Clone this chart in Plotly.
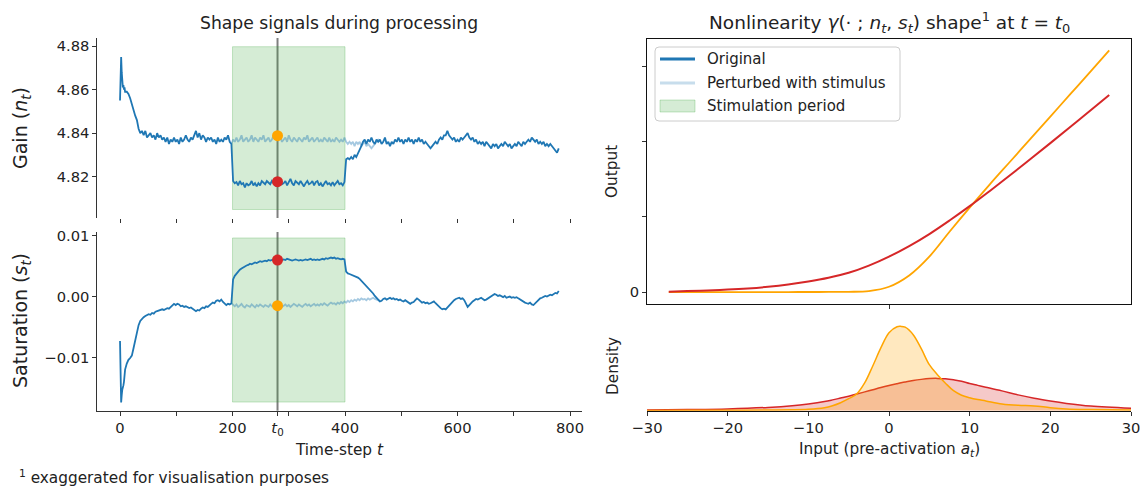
import plotly.graph_objects as go

W, H = 1141, 488
FONT = "DejaVu Sans"

# ---------------- time series (left panels) ----------------
t_steps = list(range(0, 10)) + list(range(12, 781, 3))
t_stim = list(range(198, 463, 3))

gain_original = [
    4.855, 4.869, 4.875, 4.868, 4.863, 4.861, 4.862, 4.860, 4.861, 4.859,
    4.859, 4.858, 4.856, 4.853, 4.850, 4.848, 4.846, 4.842, 4.840, 4.841,
    4.839, 4.841, 4.838, 4.839, 4.840, 4.838, 4.839, 4.837, 4.840, 4.838,
    4.839, 4.837, 4.838, 4.836, 4.838, 4.835, 4.837, 4.836, 4.838, 4.836,
    4.837, 4.835, 4.838, 4.836, 4.837, 4.839, 4.837, 4.836, 4.838, 4.837,
    4.839, 4.841, 4.838, 4.840, 4.837, 4.839, 4.838, 4.836, 4.838, 4.837,
    4.838, 4.836, 4.837, 4.835, 4.838, 4.836, 4.837, 4.836, 4.838, 4.837,
    4.839, 4.836, 4.835,
    4.818, 4.817, 4.8175, 4.816, 4.818, 4.8165, 4.817, 4.815, 4.817, 4.816,
    4.8165, 4.818, 4.816, 4.817, 4.8155, 4.817, 4.816, 4.818, 4.817, 4.8165,
    4.818, 4.817, 4.8165, 4.818, 4.817, 4.816, 4.8175, 4.817, 4.818, 4.8165,
    4.817, 4.818, 4.816, 4.8175, 4.819, 4.817, 4.816, 4.818, 4.817, 4.8165,
    4.818, 4.817, 4.8155, 4.817, 4.818, 4.8165, 4.817, 4.818, 4.816, 4.8175,
    4.818, 4.816, 4.817, 4.8155, 4.817, 4.818, 4.8165, 4.817, 4.816, 4.8175,
    4.816, 4.817, 4.818, 4.8165, 4.817, 4.816, 4.8175,
    4.828, 4.8285, 4.828, 4.829, 4.828, 4.830, 4.829, 4.8305, 4.832, 4.834,
    4.836, 4.837, 4.835, 4.837, 4.836, 4.838, 4.836, 4.835, 4.837, 4.836,
    4.837, 4.835, 4.836, 4.838, 4.835, 4.836, 4.834, 4.836, 4.835, 4.837,
    4.836, 4.838, 4.836, 4.837, 4.835, 4.837, 4.836, 4.838, 4.836, 4.837,
    4.835, 4.837, 4.836, 4.838, 4.836, 4.837, 4.835, 4.836, 4.835, 4.834,
    4.833, 4.834, 4.835, 4.836, 4.835, 4.837, 4.838, 4.837, 4.839, 4.839,
    4.841, 4.839, 4.838, 4.837, 4.838, 4.836, 4.837, 4.836, 4.838, 4.837,
    4.838, 4.839, 4.840, 4.838, 4.837, 4.838, 4.836, 4.837, 4.835, 4.836,
    4.835, 4.836, 4.834, 4.836, 4.835, 4.834, 4.833, 4.835, 4.834, 4.835,
    4.833, 4.834, 4.835, 4.834, 4.836, 4.835, 4.834, 4.835, 4.833, 4.834,
    4.835, 4.834, 4.836, 4.835, 4.834, 4.836, 4.835, 4.836, 4.837, 4.836,
    4.838, 4.837, 4.836, 4.837, 4.835, 4.836, 4.835, 4.836, 4.834, 4.835,
    4.834, 4.835, 4.834, 4.833, 4.832, 4.831, 4.833,
]

gain_perturbed = [
    4.835,
    4.837, 4.836, 4.838, 4.836, 4.837, 4.839, 4.836, 4.837, 4.838, 4.836,
    4.837, 4.839, 4.836, 4.838, 4.837, 4.836, 4.838, 4.837, 4.839, 4.836,
    4.837, 4.838, 4.836, 4.837, 4.839, 4.838, 4.837, 4.839, 4.838, 4.836,
    4.837, 4.838, 4.836, 4.839, 4.837, 4.836, 4.838, 4.837, 4.836, 4.838,
    4.837, 4.836, 4.838, 4.837, 4.839, 4.836, 4.837, 4.838, 4.836, 4.837,
    4.838, 4.836, 4.837, 4.836, 4.838, 4.837, 4.836, 4.838, 4.836, 4.837,
    4.836, 4.838, 4.837, 4.836, 4.837, 4.836, 4.838, 4.836, 4.835, 4.836,
    4.835, 4.836, 4.834, 4.836, 4.835, 4.836, 4.834, 4.835, 4.836, 4.834,
    4.835, 4.834, 4.833, 4.834, 4.835, 4.836, 4.837, 4.836,
]

sat_original = [
    -0.0073, -0.0125, -0.0174, -0.0162, -0.0153, -0.0150, -0.0146, -0.0140, -0.0128, -0.0120,
    -0.0110, -0.0104, -0.0101, -0.0097, -0.0085, -0.0072, -0.0058, -0.0047, -0.0040, -0.0036,
    -0.0034, -0.0032, -0.0031, -0.0029, -0.0030, -0.0027, -0.0028, -0.0025, -0.0024, -0.0023,
    -0.0022, -0.0021, -0.0022, -0.0020, -0.0019, -0.0020, -0.0017, -0.0014, -0.0012, -0.0014,
    -0.0012, -0.0013, -0.0016, -0.0015, -0.0017, -0.0016, -0.0018, -0.0019, -0.0018, -0.0020,
    -0.0022, -0.0024, -0.0022, -0.0023, -0.0020, -0.0018, -0.0019, -0.0016, -0.0017, -0.0014,
    -0.0012, -0.0010, -0.0011, -0.0007, -0.0006, -0.0008, -0.0005, -0.0009, -0.0012, -0.0014,
    -0.0012, -0.0013, -0.0011,
    0.0028, 0.0034, 0.0038, 0.0042, 0.0044, 0.0046, 0.0048, 0.0049, 0.0051, 0.0052,
    0.0054, 0.0053, 0.0055, 0.0056, 0.0055, 0.0057, 0.0058, 0.0057, 0.0058, 0.0059,
    0.0058, 0.0060, 0.0059, 0.0060, 0.0061, 0.0060, 0.0060, 0.0061, 0.0059, 0.0060,
    0.0061, 0.0060, 0.0062, 0.0061, 0.0060, 0.0059, 0.0060, 0.0061, 0.0060, 0.0059,
    0.0060, 0.0059, 0.0060, 0.0061, 0.0060, 0.0061, 0.0062, 0.0060, 0.0061, 0.0060,
    0.0061, 0.0060, 0.0061, 0.0062, 0.0061, 0.0063, 0.0062, 0.0063, 0.0064, 0.0063,
    0.0064, 0.0062, 0.0063, 0.0062, 0.0061, 0.0062, 0.0061,
    0.0041, 0.0038, 0.0037, 0.0036, 0.0035, 0.0034, 0.0033, 0.0031, 0.0029, 0.0026,
    0.0024, 0.0021, 0.0018, 0.0015, 0.0011, 0.0008, 0.0005, 0.0001, -0.0003, -0.0005,
    -0.0008, -0.0007, -0.0004, -0.0003, -0.0005, -0.0003, -0.0002, -0.0004, -0.0003, -0.0005,
    -0.0004, -0.0006, -0.0005, -0.0007, -0.0008, -0.0006, -0.0008, -0.0010, -0.0012, -0.0010,
    -0.0009, -0.0006, -0.0003, -0.0005, -0.0008, -0.0010, -0.0009, -0.0011, -0.0010, -0.0012,
    -0.0011, -0.0009, -0.0008, -0.0011, -0.0014, -0.0017, -0.0019, -0.0021, -0.0020, -0.0021,
    -0.0018, -0.0014, -0.0011, -0.0008, -0.0006, -0.0004, -0.0003, -0.0002, -0.0004, -0.0003,
    -0.0006, -0.0011, -0.0017, -0.0014, -0.0010, -0.0008, -0.0006, -0.0004, -0.0005, -0.0003,
    -0.0002, -0.0004, -0.0006, -0.0005, -0.0003, -0.0001, 0.0000, 0.0002, 0.0004, 0.0003,
    0.0001, 0.0002, 0.0000, -0.0001, 0.0001, -0.0002, -0.0001, 0.0000, -0.0002, -0.0001,
    -0.0002, -0.0001, -0.0003, -0.0005, -0.0006, -0.0008, -0.0010, -0.0011, -0.0012, -0.0010,
    -0.0013, -0.0014, -0.0011, -0.0008, -0.0005, -0.0003, -0.0002, 0.0000, 0.0001, 0.0000,
    0.0002, 0.0003, 0.0002, 0.0004, 0.0006, 0.0005, 0.0009,
]

sat_perturbed = [
    -0.0011,
    -0.0014, -0.0016, -0.0013, -0.0017, -0.0015, -0.0012, -0.0016, -0.0018, -0.0014, -0.0015,
    -0.0017, -0.0013, -0.0015, -0.0018, -0.0014, -0.0016, -0.0013, -0.0015, -0.0017, -0.0014,
    -0.0015, -0.0017, -0.0013, -0.0016, -0.0014, -0.0012, -0.0015, -0.0016, -0.0014, -0.0017,
    -0.0015, -0.0013, -0.0016, -0.0014, -0.0017, -0.0015, -0.0012, -0.0014, -0.0016, -0.0013,
    -0.0015, -0.0017, -0.0014, -0.0012, -0.0015, -0.0013, -0.0016, -0.0014, -0.0012, -0.0015,
    -0.0013, -0.0015, -0.0012, -0.0014, -0.0011, -0.0013, -0.0015, -0.0012, -0.0010, -0.0012,
    -0.0011, -0.0013, -0.0010, -0.0012, -0.0009, -0.0011, -0.0008, -0.0010, -0.0007, -0.0009,
    -0.0006, -0.0008, -0.0005, -0.0007, -0.0004, -0.0006, -0.0003, -0.0005, -0.0004, -0.0006,
    -0.0003, -0.0005, -0.0004, -0.0002, -0.0004, -0.0005, -0.0006, -0.0007,
]

t0 = 280
stim_start, stim_end = 200, 400
t0_gain = [4.8177, 4.8388]        # original, perturbed
t0_sat = [0.0060, -0.0015]        # original, perturbed
t0_colors = ["#d62728", "#FFA500"]

time_tickvals = [0, 100, 200, 280, 300, 400, 500, 600, 700, 800]
time_ticktext = ["0", "", "200", "<i>t</i><sub>0</sub>", "", "400", "", "600", "", "800"]

# ---------------- nonlinearity and input density (right panels) ----------------
act_input = [-27.3, -25, -22.5, -20, -17.5, -15, -12.5, -10, -7.5, -5, -2.5, 0,
             2.5, 5, 7.5, 10, 12.5, 15, 17.5, 20, 22.5, 25, 27.3]
gamma_original = [0.005, 0.012, 0.020, 0.032, 0.048, 0.070, 0.100, 0.140, 0.190, 0.255,
                  0.350, 0.470, 0.610, 0.770, 0.950, 1.140, 1.3425, 1.550, 1.7625, 1.9775,
                  2.195, 2.415, 2.617]
gamma_perturbed = [0.0, 0.0, 0.0, 0.0, 0.0, 0.0, 0.0, 0.0005, 0.001, 0.003,
                   0.013, 0.070, 0.220, 0.470, 0.800, 1.120, 1.430, 1.730, 2.030, 2.330,
                   2.630, 2.930, 3.210]

density_x = [-30, -25, -20, -15, -12, -10, -8, -7, -6, -5, -4, -3, -2, -1, 0, 1, 1.5, 2,
             3, 4, 5, 6, 7, 8, 9, 10, 11, 12, 14, 16, 18, 20, 22, 25, 30]
density_perturbed = [0.0005, 0.0006, 0.0008, 0.0011, 0.0014, 0.0022, 0.0048, 0.0080, 0.0128,
                     0.0192, 0.0269, 0.0448, 0.0720, 0.1008, 0.1248, 0.1344, 0.1349, 0.1336,
                     0.1216, 0.0992, 0.0736, 0.0576, 0.0440, 0.0320, 0.0248, 0.0208, 0.0179,
                     0.0157, 0.0109, 0.0086, 0.0077, 0.0048, 0.0029, 0.0019, 0.0010]
density_original = [0.0011, 0.0018, 0.0029, 0.0053, 0.0080, 0.0109, 0.0147, 0.0173, 0.0202,
                    0.0232, 0.0266, 0.0301, 0.0336, 0.0371, 0.0403, 0.0432, 0.0446, 0.0459,
                    0.0483, 0.0501, 0.0514, 0.0517, 0.0510, 0.0494, 0.0472, 0.0435, 0.0405,
                    0.0376, 0.0317, 0.0253, 0.0198, 0.0154, 0.0117, 0.0075, 0.0040]

legend_labels = ["Original", "Perturbed with stimulus", "Stimulation period"]

BLUE = "#1f77b4"
BLUE_LIGHT = "rgba(31,119,180,0.4)"
BLUE_LEGEND = "rgba(31,119,180,0.25)"
RED = "#d62728"
ORANGE = "#FFA500"
GREEN_FILL = "rgba(44,160,44,0.2)"
GREEN_EDGE = "rgba(44,160,44,0.25)"
AXIS_COL = "#333333"
TEXT_COL = "#222222"


def px_x(p):
    return p / W


def px_y(p):
    return 1 - p / H


fig = go.Figure()

# top-left: gain
fig.add_trace(go.Scatter(x=t_stim, y=gain_perturbed, mode="lines", line=dict(color=BLUE_LIGHT, width=1.8),
                         name=legend_labels[1], xaxis="x", yaxis="y"))
fig.add_trace(go.Scatter(x=t_steps, y=gain_original, mode="lines", line=dict(color=BLUE, width=1.8),
                         name=legend_labels[0], xaxis="x", yaxis="y"))
# bottom-left: saturation
fig.add_trace(go.Scatter(x=t_stim, y=sat_perturbed, mode="lines", line=dict(color=BLUE_LIGHT, width=1.8),
                         xaxis="x2", yaxis="y2"))
fig.add_trace(go.Scatter(x=t_steps, y=sat_original, mode="lines", line=dict(color=BLUE, width=1.8),
                         xaxis="x2", yaxis="y2"))
# markers at t0
fig.add_trace(go.Scatter(x=[t0, t0], y=t0_gain, mode="markers",
                         marker=dict(color=t0_colors, size=11, line=dict(width=0)),
                         xaxis="x", yaxis="y"))
fig.add_trace(go.Scatter(x=[t0, t0], y=t0_sat, mode="markers",
                         marker=dict(color=t0_colors, size=11, line=dict(width=0)),
                         xaxis="x2", yaxis="y2"))

# right-top: nonlinearity
fig.add_trace(go.Scatter(x=act_input, y=gamma_perturbed, mode="lines",
                         line=dict(color=ORANGE, width=1.8, shape="spline"), xaxis="x3", yaxis="y3"))
fig.add_trace(go.Scatter(x=act_input, y=gamma_original, mode="lines",
                         line=dict(color=RED, width=2, shape="spline"), xaxis="x3", yaxis="y3"))

# right-bottom: densities
fig.add_trace(go.Scatter(x=density_x, y=density_original, mode="lines", fill="tozeroy",
                         fillcolor="rgba(214,39,40,0.25)", line=dict(color=RED, width=1.5, shape="spline"),
                         xaxis="x4", yaxis="y4"))
fig.add_trace(go.Scatter(x=density_x, y=density_perturbed, mode="lines", fill="tozeroy",
                         fillcolor="rgba(255,165,0,0.25)", line=dict(color=ORANGE, width=1.5, shape="spline"),
                         xaxis="x4", yaxis="y4"))

shapes = [
    dict(type="rect", xref="x", yref="y", x0=stim_start, x1=stim_end, y0=4.8049, y1=4.8797,
         fillcolor=GREEN_FILL, line=dict(color=GREEN_EDGE, width=1), layer="below"),
    dict(type="rect", xref="x2", yref="y2", x0=stim_start, x1=stim_end, y0=-0.01733, y1=0.00962,
         fillcolor=GREEN_FILL, line=dict(color=GREEN_EDGE, width=1), layer="below"),
    dict(type="line", xref="x", yref="y domain", x0=t0, x1=t0, y0=0, y1=1,
         line=dict(color="rgba(0,0,0,0.5)", width=2), layer="below"),
    dict(type="line", xref="x2", yref="y2 domain", x0=t0, x1=t0, y0=0, y1=1,
         line=dict(color="rgba(0,0,0,0.5)", width=2), layer="below"),
]

# legend box (rounded frame) with its three handles
bx0, bx1, by0, by1, r = 655, 900, 47, 121, 4
frame = (f"M {px_x(bx0 + r)},{px_y(by0)} L {px_x(bx1 - r)},{px_y(by0)} "
         f"Q {px_x(bx1)},{px_y(by0)} {px_x(bx1)},{px_y(by0 + r)} "
         f"L {px_x(bx1)},{px_y(by1 - r)} Q {px_x(bx1)},{px_y(by1)} {px_x(bx1 - r)},{px_y(by1)} "
         f"L {px_x(bx0 + r)},{px_y(by1)} Q {px_x(bx0)},{px_y(by1)} {px_x(bx0)},{px_y(by1 - r)} "
         f"L {px_x(bx0)},{px_y(by0 + r)} Q {px_x(bx0)},{px_y(by0)} {px_x(bx0 + r)},{px_y(by0)} Z")
shapes.append(dict(type="path", xref="paper", yref="paper", path=frame,
                   fillcolor="rgba(255,255,255,0.8)", line=dict(color="#cccccc", width=1), layer="above"))
row_y = [59, 83, 106]
shapes.append(dict(type="line", xref="paper", yref="paper", x0=px_x(660), x1=px_x(695),
                   y0=px_y(row_y[0]), y1=px_y(row_y[0]), line=dict(color=BLUE, width=3), layer="above"))
shapes.append(dict(type="line", xref="paper", yref="paper", x0=px_x(660), x1=px_x(695),
                   y0=px_y(row_y[1]), y1=px_y(row_y[1]), line=dict(color=BLUE_LEGEND, width=3), layer="above"))
shapes.append(dict(type="rect", xref="paper", yref="paper", x0=px_x(660), x1=px_x(695),
                   y0=px_y(row_y[2] + 6), y1=px_y(row_y[2] - 6), fillcolor=GREEN_FILL,
                   line=dict(color=GREEN_EDGE, width=1), layer="above"))

tickfont = dict(family=FONT, size=14.7, color=TEXT_COL)
left_dom = [px_x(97.3), px_x(581.7)]
right_dom = [px_x(647), px_x(1131)]
time_range = [-40.4, 820.8]

common_tick = dict(ticks="outside", ticklen=4, tickwidth=1, tickcolor=AXIS_COL, tickfont=tickfont,
                   showgrid=False, zeroline=False, automargin=False)

fig.update_layout(
    template="none",
    width=W, height=H,
    margin=dict(l=0, r=0, t=0, b=0, pad=0, autoexpand=False),
    paper_bgcolor="white", plot_bgcolor="white",
    font=dict(family=FONT, size=14, color=TEXT_COL),
    shapes=shapes,
    showlegend=False,
    xaxis=dict(domain=left_dom, range=time_range, anchor="y", showline=False,
               tickvals=[0, 100, 200, 300, 400, 500, 600, 700, 800], showticklabels=False, **common_tick),
    yaxis=dict(domain=[px_y(218), px_y(38)], range=[4.8010, 4.8837], anchor="x", showline=True,
               linecolor=AXIS_COL, linewidth=1, tickvals=[4.82, 4.84, 4.86, 4.88], tickformat=".2f",
               **common_tick),
    xaxis2=dict(domain=left_dom, range=time_range, anchor="y2", showline=True, linecolor=AXIS_COL,
                linewidth=1, tickvals=time_tickvals, ticktext=time_ticktext, **common_tick),
    yaxis2=dict(domain=[px_y(410.7), px_y(232)], range=[-0.01875, 0.0106], anchor="x2", showline=True,
                linecolor=AXIS_COL, linewidth=1, tickvals=[-0.01, 0.0, 0.01], tickformat=".2f",
                **common_tick),
    xaxis3=dict(domain=right_dom, range=[-30, 30], anchor="y3", showline=True, mirror=True,
                linecolor="#111111", linewidth=1, tickvals=[0], ticktext=[""], **common_tick),
    yaxis3=dict(domain=[px_y(304), px_y(39)], range=[-0.159, 3.36], anchor="x3", showline=True,
                mirror=True, linecolor="#111111", linewidth=1, tickvals=[0, 1, 2, 3],
                ticktext=["0", "", "", ""], **common_tick),
    xaxis4=dict(domain=right_dom, range=[-30, 30], anchor="y4", showline=True, linecolor="#111111",
                linewidth=1, tickvals=[-30, -20, -10, 0, 10, 20, 30], **common_tick),
    yaxis4=dict(domain=[px_y(410.7), px_y(321)], range=[0, 0.1435], anchor="x4", visible=False,
                automargin=False),
)

annos = [
    dict(x=px_x(339), y=px_y(23), text="Shape signals during processing", font=dict(size=17.2)),
    dict(x=px_x(889), y=px_y(23),
         text="Nonlinearity <i>γ</i>(· ; <i>n</i><sub><i>t</i></sub>, <i>s</i><sub><i>t</i></sub>) "
              "shape<sup>1</sup> at <i>t</i> = <i>t</i><sub>0</sub>",
         font=dict(size=18.5)),
    dict(x=px_x(21), y=px_y(128), text="Gain (<i>n</i><sub><i>t</i></sub>)", textangle=-90,
         font=dict(size=19)),
    dict(x=px_x(21), y=px_y(321), text="Saturation (<i>s</i><sub><i>t</i></sub>)", textangle=-90,
         font=dict(size=19)),
    dict(x=px_x(339), y=px_y(450), text="Time-step <i>t</i>", font=dict(size=15.3)),
    dict(x=px_x(889), y=px_y(450), text="Input (pre-activation <i>a</i><sub><i>t</i></sub>)",
         font=dict(size=15.3)),
    dict(x=px_x(612), y=px_y(172), text="Output", textangle=-90, font=dict(size=15.3)),
    dict(x=px_x(613), y=px_y(366), text="Density", textangle=-90, font=dict(size=15.3)),
    dict(x=px_x(17), y=px_y(477), xanchor="left",
         text="<sup>1</sup> exaggerated for visualisation purposes", font=dict(size=15.3)),
]
for label, yy in zip(legend_labels, row_y):
    annos.append(dict(x=px_x(705), y=px_y(yy), xanchor="left", text=label, font=dict(size=15)))

for a in annos:
    a.setdefault("xanchor", "center")
    a.update(xref="paper", yref="paper", yanchor="middle", showarrow=False)
    a["font"] = dict(family=FONT, color=TEXT_COL, **a["font"])
fig.update_layout(annotations=annos)

fig.write_html("out.html", config={"displayModeBar": False})
